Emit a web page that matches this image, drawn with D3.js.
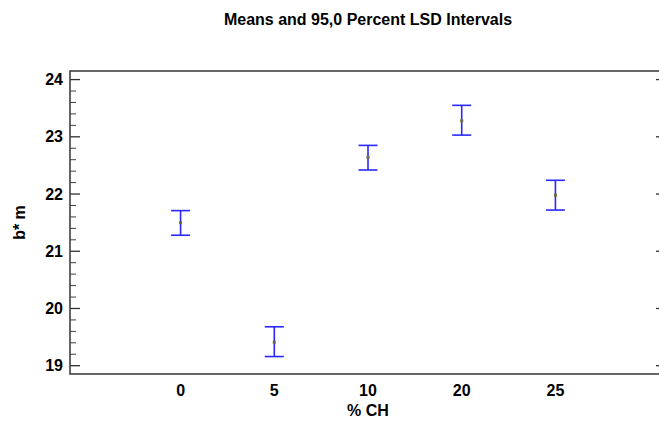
<!DOCTYPE html>
<html>
<head>
<meta charset="utf-8">
<script src="https://cdn.jsdelivr.net/npm/d3@7"></script>
<style>
  body { margin: 0; background: #fff; }
  text { font-family: "Liberation Sans", Arial, sans-serif; font-weight: bold; fill: #000; }
</style>
</head>
<body>
<div id="chart"></div>
<script>
// data
var groups = ["0", "5", "10", "20", "25"];
var means = [21.50, 19.41, 22.64, 23.28, 21.98];
var lower = [21.28, 19.16, 22.42, 23.03, 21.72];
var upper = [21.71, 19.68, 22.85, 23.55, 22.24];
var yTicks = [19, 20, 21, 22, 23, 24];

var width = 659, height = 423;
var margin = {top: 71, right: -7, bottom: 49, left: 70};
var plotW = width - margin.left - margin.right,
    plotH = height - margin.top - margin.bottom;

var svg = d3.select("#chart").append("svg")
    .attr("width", width)
    .attr("height", height);

var g = svg.append("g")
    .attr("transform", "translate(" + margin.left + "," + margin.top + ")");

var x = d3.scalePoint()
    .domain(groups)
    .range([0, plotW])
    .padding(1.18);

var y = d3.scaleLinear()
    .domain([18.855, 24.15])
    .range([plotH, 0]);

// minor ticks every 0.2
var minorTicks = d3.range(19, 24.15, 0.2).filter(function(d){
  return Math.abs(d - Math.round(d)) > 0.01;
});

// left axis, ticks pointing inward
g.selectAll(".minorL").data(minorTicks).enter().append("line")
    .attr("x1", 0).attr("x2", 6)
    .attr("y1", function(d){ return y(d); })
    .attr("y2", function(d){ return y(d); })
    .attr("stroke", "#404040").attr("stroke-width", 1);
g.selectAll(".majorL").data(yTicks).enter().append("line")
    .attr("x1", 0).attr("x2", 10)
    .attr("y1", function(d){ return y(d); })
    .attr("y2", function(d){ return y(d); })
    .attr("stroke", "#303030").attr("stroke-width", 1.3);

// right side ticks
g.selectAll(".minorR").data(minorTicks).enter().append("line")
    .attr("x1", plotW).attr("x2", plotW - 6)
    .attr("y1", function(d){ return y(d); })
    .attr("y2", function(d){ return y(d); })
    .attr("stroke", "#404040").attr("stroke-width", 1);
g.selectAll(".majorR").data(yTicks).enter().append("line")
    .attr("x1", plotW).attr("x2", plotW - 10)
    .attr("y1", function(d){ return y(d); })
    .attr("y2", function(d){ return y(d); })
    .attr("stroke", "#303030").attr("stroke-width", 1.3);

// frame
g.append("rect")
    .attr("width", plotW).attr("height", plotH)
    .attr("fill", "none")
    .attr("stroke", "#404040")
    .attr("stroke-width", 1.6);

// y tick labels
g.selectAll(".ylab").data(yTicks).enter().append("text")
    .attr("x", -7)
    .attr("y", function(d){ return y(d); })
    .attr("dy", "0.35em")
    .attr("text-anchor", "end")
    .style("font-size", "16px")
    .text(function(d){ return d; });

// x tick labels
g.selectAll(".xlab").data(groups).enter().append("text")
    .attr("x", function(d){ return x(d); })
    .attr("y", plotH + 22)
    .attr("text-anchor", "middle")
    .style("font-size", "16px")
    .text(function(d){ return d; });

// error bars
var capW = 9.5;
var bars = g.selectAll(".bar").data(groups).enter().append("g");
bars.append("line")
    .attr("x1", function(d){ return x(d); })
    .attr("x2", function(d){ return x(d); })
    .attr("y1", function(d, i){ return y(upper[i]); })
    .attr("y2", function(d, i){ return y(lower[i]); })
    .attr("stroke", "#2828ff").attr("stroke-width", 1.6);
bars.append("line")
    .attr("x1", function(d){ return x(d) - capW; })
    .attr("x2", function(d){ return x(d) + capW; })
    .attr("y1", function(d, i){ return y(upper[i]); })
    .attr("y2", function(d, i){ return y(upper[i]); })
    .attr("stroke", "#2828ff").attr("stroke-width", 1.6);
bars.append("line")
    .attr("x1", function(d){ return x(d) - capW; })
    .attr("x2", function(d){ return x(d) + capW; })
    .attr("y1", function(d, i){ return y(lower[i]); })
    .attr("y2", function(d, i){ return y(lower[i]); })
    .attr("stroke", "#2828ff").attr("stroke-width", 1.6);
bars.append("rect")
    .attr("x", function(d){ return x(d) - 1.5; })
    .attr("y", function(d, i){ return y(means[i]) - 1.5; })
    .attr("width", 3).attr("height", 3)
    .attr("fill", "#6e6a3c");

// title and axis labels
svg.append("text")
    .attr("x", margin.left + plotW / 2)
    .attr("y", 25)
    .attr("text-anchor", "middle")
    .style("font-size", "16px")
    .text("Means and 95,0 Percent LSD Intervals");

svg.append("text")
    .attr("x", margin.left + plotW / 2)
    .attr("y", height - 7)
    .attr("text-anchor", "middle")
    .style("font-size", "16px")
    .text("% CH");

svg.append("text")
    .attr("transform", "translate(25," + (margin.top + plotH / 2) + ") rotate(-90)")
    .attr("text-anchor", "middle")
    .style("font-size", "16px")
    .text("b* m");
</script>
</body>
</html>
